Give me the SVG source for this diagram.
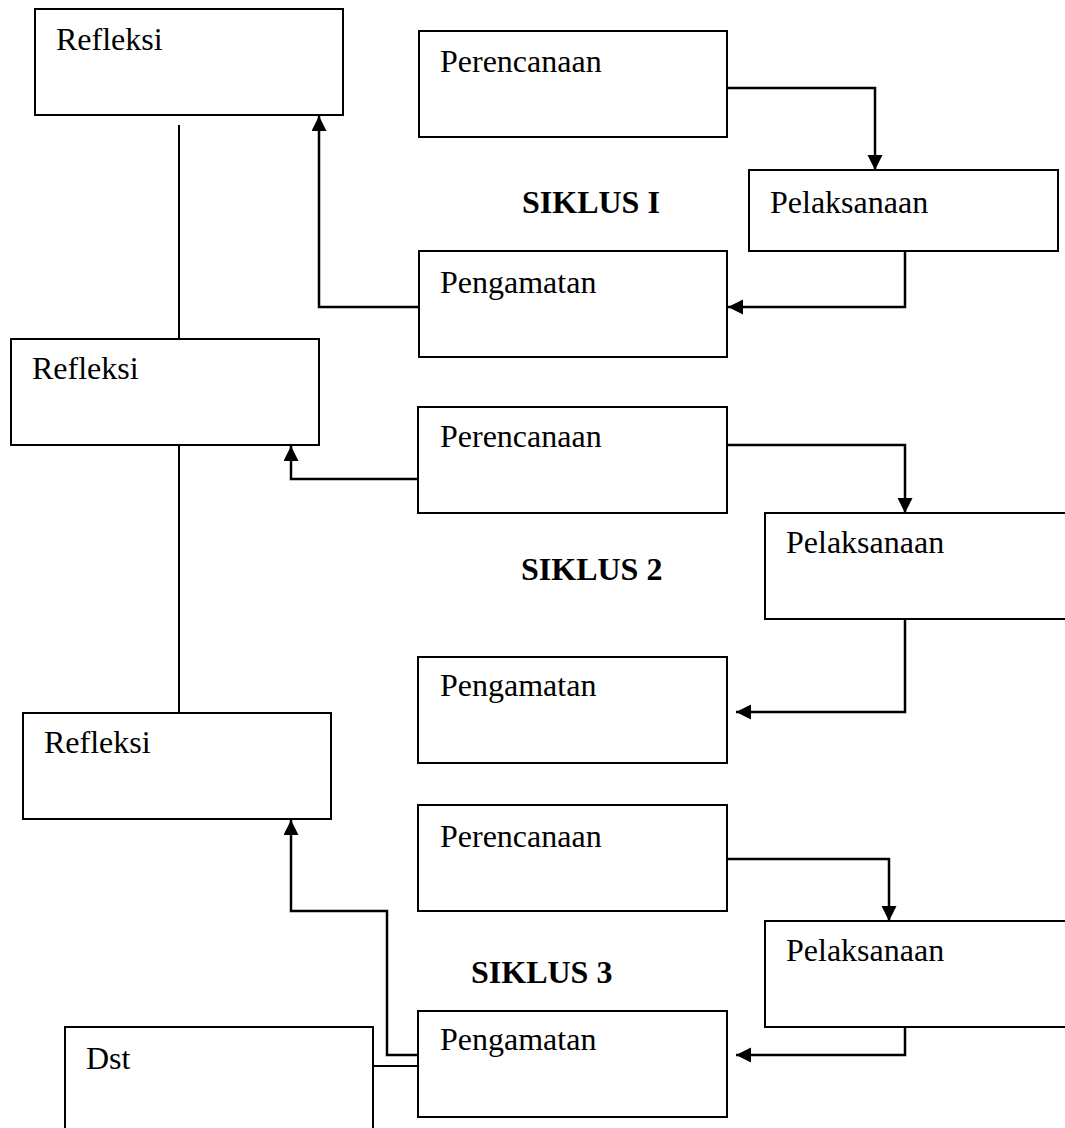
<svg xmlns="http://www.w3.org/2000/svg" width="1065" height="1128" viewBox="0 0 1065 1128">
<style>
.box{fill:#fff;stroke:#000;stroke-width:2}
.lbl{font-family:"Liberation Serif","Times New Roman",serif;font-size:32px;fill:#000}
.title{font-family:"Liberation Serif","Times New Roman",serif;font-size:32px;font-weight:bold;fill:#000}
.conn{fill:none;stroke:#000;stroke-width:2}
.arr{fill:none;stroke:#000;stroke-width:2.5;marker-end:url(#ah)}
</style>
<defs>
<marker id="ah" markerUnits="userSpaceOnUse" markerWidth="16" markerHeight="16" refX="15" refY="7.5" orient="auto">
<path d="M0,0 L15,7.5 L0,15 z" fill="#000"/>
</marker>
</defs>
<rect width="1065" height="1128" fill="#fff"/>
<g id="connectors">
<path class="conn" d="M179,125 V339"/>
<path class="conn" d="M179,445 V713"/>
<path class="arr" d="M418,307 H319 V116"/>
<path class="arr" d="M727,88 H875 V170"/>
<path class="arr" d="M905,251 V307 H728"/>
<path class="arr" d="M418,479 H291 V446"/>
<path class="arr" d="M727,445 H905 V513"/>
<path class="arr" d="M905,619 V712 H736"/>
<path class="arr" d="M418,1055 H387 V911 H291 V820"/>
<path class="arr" d="M727,859 H889 V921"/>
<path class="arr" d="M905,1027 V1055 H736"/>
<path class="conn" d="M373,1066 H418"/>
</g>
<g id="refleksi1"><rect class="box" x="35" y="9" width="308" height="106"/><text class="lbl" x="56" y="50">Refleksi</text></g>
<g id="perencanaan1"><rect class="box" x="419" y="31" width="308" height="106"/><text class="lbl" x="440" y="72">Perencanaan</text></g>
<g id="pelaksanaan1"><rect class="box" x="749" y="170" width="309" height="81"/><text class="lbl" x="770" y="213">Pelaksanaan</text></g>
<g id="pengamatan1"><rect class="box" x="419" y="251" width="308" height="106"/><text class="lbl" x="440" y="293">Pengamatan</text></g>
<g id="siklus1"><text class="title" x="522" y="213">SIKLUS I</text></g>
<g id="refleksi2"><rect class="box" x="11" y="339" width="308" height="106"/><text class="lbl" x="32" y="379">Refleksi</text></g>
<g id="perencanaan2"><rect class="box" x="418" y="407" width="309" height="106"/><text class="lbl" x="440" y="447">Perencanaan</text></g>
<g id="pelaksanaan2"><rect class="box" x="765" y="513" width="330" height="106"/><text class="lbl" x="786" y="553">Pelaksanaan</text></g>
<g id="pengamatan2"><rect class="box" x="418" y="657" width="309" height="106"/><text class="lbl" x="440" y="696">Pengamatan</text></g>
<g id="siklus2"><text class="title" x="521" y="580">SIKLUS 2</text></g>
<g id="refleksi3"><rect class="box" x="23" y="713" width="308" height="106"/><text class="lbl" x="44" y="753">Refleksi</text></g>
<g id="perencanaan3"><rect class="box" x="418" y="805" width="309" height="106"/><text class="lbl" x="440" y="847">Perencanaan</text></g>
<g id="pelaksanaan3"><rect class="box" x="765" y="921" width="330" height="106"/><text class="lbl" x="786" y="961">Pelaksanaan</text></g>
<g id="pengamatan3"><rect class="box" x="418" y="1011" width="309" height="106"/><text class="lbl" x="440" y="1050">Pengamatan</text></g>
<g id="siklus3"><text class="title" x="471" y="983">SIKLUS 3</text></g>
<g id="dst"><rect class="box" x="65" y="1027" width="308" height="130"/><text class="lbl" x="86" y="1069">Dst</text></g>
</svg>
